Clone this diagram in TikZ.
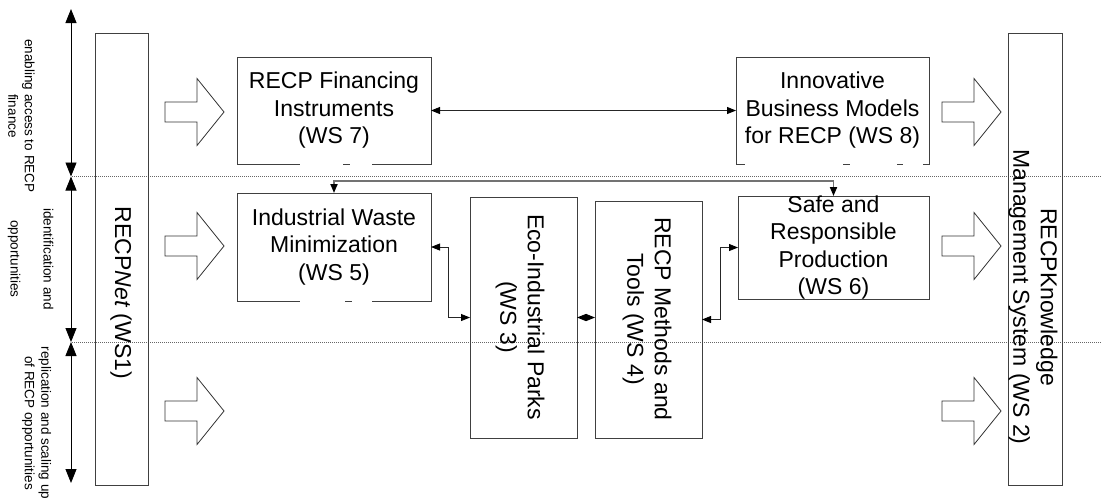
\documentclass[tikz,border=0pt]{standalone}
\usepackage{fontspec}
\setmainfont{Liberation Sans}
\usetikzlibrary{arrows.meta}
\tikzset{
  box/.style={draw=black!75, line width=0.9pt, inner sep=0pt, outer sep=0pt},
  boxtext/.style={font=\fontsize{23}{27.5}\selectfont, align=center, inner sep=0pt},
  sidetext/.style={font=\fontsize{13.5}{16.5}\selectfont, align=center, inner sep=0pt, rotate=-90},
  conn/.style={line width=0.8pt, black!85, {Triangle[length=9pt,width=7pt,color=black]}-{Triangle[length=9pt,width=7pt,color=black]}},
  graylink/.style={line width=1.8pt, black!55, {Triangle[length=9pt,width=7pt,color=black]}-{Triangle[length=9pt,width=7pt,color=black]}},
  vert/.style={line width=0.9pt, {Triangle[length=14pt,width=11pt]}-{Triangle[length=14pt,width=11pt]}},
  sep/.style={line width=0.8pt, black!60, dash pattern=on 1pt off 1pt},
  gap/.style={fill=white, draw=none},
  blockarrow/.pic={\draw[line width=0.8pt, draw=black!80, fill=white] (0,-10) -- (32,-10) -- (32,-33.5) -- (59,0) -- (32,33.5) -- (32,10) -- (0,10) -- cycle;}
}
\begin{document}
\begin{tikzpicture}[x=1pt,y=-1pt]
\useasboundingbox (0,0) rectangle (1102,499);

% separators
\coordinate (s1a) at (72,176.5); \coordinate (s1b) at (1102,176.5);
\coordinate (s2a) at (72,342); \coordinate (s2b) at (1102,342);
\draw[sep] (s1a) -- (s1b);
\draw[sep] (s2a) -- (s2b);

% left vertical arrows
\coordinate (v0) at (71,9); \coordinate (v1) at (71,176.5);
\coordinate (v2) at (71,342); \coordinate (v3) at (71,483);
\draw[vert] (v0) -- (v1);
\draw[vert] (v1) -- (v2);
\draw[vert] (v2) -- (v3);

% side labels
\node[sidetext] (l1) at (21.5,116) {enabling access to RECP\\finance};
\node[sidetext] (l2) at (30.5,259) {identification and\\\mbox{}\\opportunities};
\node[sidetext] (l3) at (36.5,423) {replication and scaling up\\of RECP opportunities};

% boxes
\node[box, minimum width=53pt, minimum height=452pt] (net) at (121.5,259) {};
\node[box, minimum width=54pt, minimum height=452pt] (kms) at (1035,259) {};
\node[box, minimum width=194pt, minimum height=107pt] (ws7) at (334,110.5) {};
\node[box, minimum width=193pt, minimum height=107pt] (ws8) at (832.5,110.5) {};
\node[box, minimum width=194pt, minimum height=108pt] (ws5) at (334,247) {};
\node[box, minimum width=191pt, minimum height=103pt] (ws6) at (833.5,247.5) {};
\node[box, minimum width=107pt, minimum height=241pt] (ws3) at (523.5,317.5) {};
\node[box, minimum width=107pt, minimum height=237pt] (ws4) at (648.5,319.5) {};

% gaps in box edges
\fill[gap] (300,162) rectangle (343,166);
\fill[gap] (350,162) rectangle (372,166);
\fill[gap] (300,299) rectangle (345,303);
\fill[gap] (352,299) rectangle (372,303);
\fill[gap] (745,162) rectangle (843,166);
\fill[gap] (850,162) rectangle (897,166);
\fill[gap] (903,162) rectangle (923,166);

% texts
\node[boxtext] (t7) at (334,110.5) {RECP Financing\\Instruments\\(WS 7)};
\node[boxtext] (t8) at (832.5,110.5) {Innovative\\Business Models\\for RECP (WS 8)};
\node[boxtext] (t5) at (334,247) {Industrial Waste\\Minimization\\(WS 5)};
\node[boxtext] (t6) at (833.5,247.5) {Safe and\\Responsible\\Production\\(WS 6)};
\node[boxtext, rotate=-90] (t3) at (520,317) {Eco-Industrial Parks\\(WS 3)};
\node[boxtext, rotate=-90] (t4) at (647,319) {RECP Methods and\\Tools (WS 4)};
\node[boxtext, rotate=-90] (tnet) at (121,293) {RECP\textit{Net} (WS1)};
\node[boxtext, rotate=-90] (tkms) at (1033,297) {RECPKnowledge\\Management System (WS 2)};

% block arrows
\pic at (165,112) {blockarrow};
\pic at (165,246) {blockarrow};
\pic at (165,411) {blockarrow};
\pic at (942,112) {blockarrow};
\pic at (942,246) {blockarrow};
\pic at (942,411) {blockarrow};

% connectors
\coordinate (h1) at (334,181);
\coordinate (h2) at (833.5,181);
\draw[conn] (ws7.east) -- (ws8.west);
\draw[graylink] (ws5.north) -- (h1) -- (h2) -- (ws6.north);
\draw[conn] (ws5.east) -- ++(17,0) |- (ws3.west);
\draw[conn] (ws3.east) -- (ws4.west |- ws3.east);
\draw[conn] (ws4.east) -- ++(18,0) |- (ws6.west);
\end{tikzpicture}
\end{document}
